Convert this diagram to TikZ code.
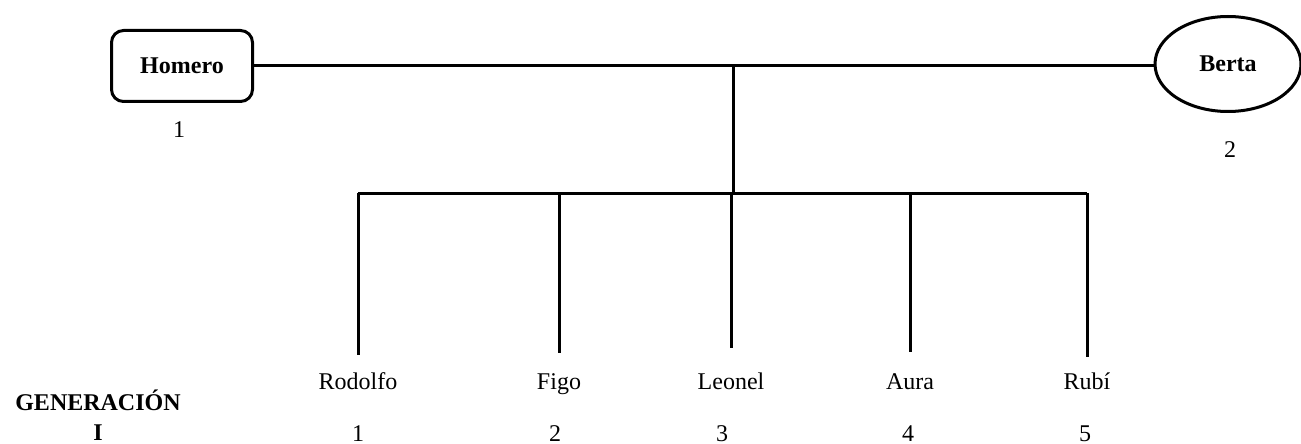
\documentclass[tikz,border=0pt]{standalone}
\usepackage{fontspec}
\setmainfont{Liberation Serif}
\usetikzlibrary{positioning,shapes.geometric}

\newcommand{\letra}{\fontsize{12}{14}\selectfont}

\tikzset{
  padre/.style={draw, rounded corners=6pt, line width=1.5pt, minimum width=70.5pt, minimum height=35.5pt, font=\letra\bfseries},
  madre/.style={draw, ellipse, line width=1.5pt, minimum width=73pt, minimum height=47.5pt, inner sep=0pt, font=\letra\bfseries},
  rama/.style={line width=1.5pt},
  nombre/.style={anchor=base, inner sep=0pt, font=\letra}
}

\begin{document}
\begin{tikzpicture}[x=0.5pt,y=-0.5pt]
\useasboundingbox (0,0) rectangle (1301,444);

% pareja
\node[padre] (homero) at (182,66) {Homero};
\node[madre] (berta) at (1228,64) {Berta};
\node[nombre] (n_homero) at (179,138) {1};
\node[nombre] (n_berta) at (1230,157) {2};
\draw[rama] (homero.east) -- (homero.east -| berta.west);

% bajada a los hijos
\coordinate (union) at (733,66);
\coordinate (barra) at (733,193);
\draw[rama] (union) -- (barra);

% hijos: x de la rama / nombre / x del numero / numero / fin de la rama
\foreach \x/\nom/\xn/\n/\y [count=\i] in {358/Rodolfo/358/1/355, 559/Figo/555/2/353, 731/Leonel/722/3/348, 910/Aura/908/4/352, 1087/Rubí/1085/5/357} {
  \coordinate (top\i) at (\x,193);
  \coordinate (end\i) at (\x,\y);
  \draw[rama] (top\i) -- (end\i);
  \node[nombre] (hijo\i) at (\x,389) {\nom};
  \node[nombre] (num\i) at (\xn,441) {\n};
}
\draw[rama] (top1) -- (top5);

\node[nombre, font=\letra\bfseries] (gen) at (98,410) {GENERACIÓN};
\node[nombre, font=\letra\bfseries] (genI) at (98,440) {I};
\end{tikzpicture}
\end{document}
